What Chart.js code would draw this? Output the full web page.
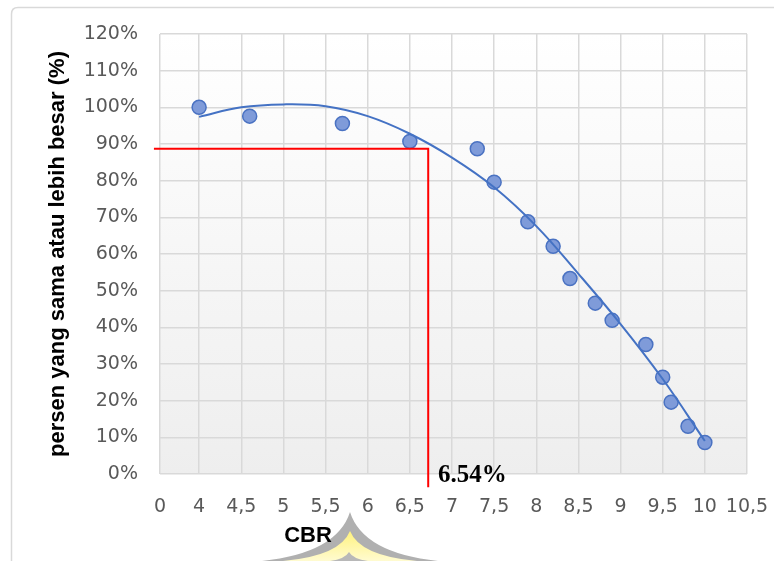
<!DOCTYPE html>
<html><head><meta charset="utf-8">
<script src="https://cdn.jsdelivr.net/npm/chart.js@4.4.1/dist/chart.umd.min.js"></script>
<style>html,body{margin:0;padding:0;background:#fff;}canvas{display:block;}</style>
</head><body>
<canvas id="c" width="774" height="561"></canvas>
<script>
// ---- data ----
const xTickValues = [3.536, 4, 4.5, 5, 5.5, 6, 6.5, 7, 7.5, 8, 8.5, 9, 9.5, 10, 10.5];
const xTickLabels = ['0', '4', '4,5', '5', '5,5', '6', '6,5', '7', '7,5', '8', '8,5', '9', '9,5', '10', '10,5'];
const yMin = 0, yMax = 120, yStep = 10;

const cbrValues = [4, 4.6, 5.7, 6.5, 7.3, 7.5, 7.9, 8.2, 8.4, 8.7, 8.9, 9.3, 9.5, 9.6, 9.8, 10];
const percentValues = [100, 97.6, 95.6, 90.7, 88.7, 79.6, 68.8, 62.1, 53.3, 46.6, 41.9, 35.3, 26.4, 19.6, 13.0, 8.6];

const trendX = [4, 4.5, 5, 5.5, 6, 6.5, 7, 7.5, 8, 8.5, 9, 9.5, 10];
const trendY = [97.4, 100.0, 100.8, 100.3, 97.6, 92.8, 86.3, 78.2, 67.6, 54.6, 40.9, 25.9, 9.0];

const guideX = [3.464, 6.718, 6.718];
const guideY = [88.7, 88.7, -3.6];
const guideLabel = '6.54%';
const guideLabelAt = [6.833, -2.05];

const yTitle = 'persen yang sama atau lebih besar (%)';
const xTitle = 'CBR';

const toXY = (xs, ys) => xs.map((x, i) => ({x: x, y: ys[i]}));

const decor = {
  id: 'decor',
  beforeDraw(chart) {
    const {ctx, chartArea: a} = chart;
    ctx.save();
    // outer frame
    ctx.strokeStyle = '#d9d9d9';
    ctx.lineWidth = 1.5;
    ctx.beginPath();
    ctx.moveTo(11.5, 561);
    ctx.lineTo(11.5, 14);
    ctx.quadraticCurveTo(11.5, 7.5, 18, 7.5);
    ctx.lineTo(774, 7.5);
    ctx.stroke();
    // plot background gradient
    const g = ctx.createLinearGradient(0, a.top, 0, a.bottom);
    g.addColorStop(0, '#ffffff');
    g.addColorStop(1, '#eeeeee');
    ctx.fillStyle = g;
    ctx.fillRect(a.left, a.top, a.right - a.left, a.bottom - a.top);
    // watermark (partial logo)
    ctx.fillStyle = '#b0b0b0';
    ctx.beginPath();
    ctx.moveTo(350, 512);
    ctx.quadraticCurveTo(337, 553, 262, 561);
    ctx.lineTo(438, 561);
    ctx.quadraticCurveTo(363, 553, 350, 512);
    ctx.fill();
    const yg = ctx.createLinearGradient(0, 530, 0, 561);
    yg.addColorStop(0, '#fff27a');
    yg.addColorStop(1, '#fffbd0');
    ctx.fillStyle = yg;
    ctx.beginPath();
    ctx.moveTo(350, 531);
    ctx.quadraticCurveTo(340, 556, 283, 561);
    ctx.lineTo(417, 561);
    ctx.quadraticCurveTo(360, 556, 350, 531);
    ctx.fill();
    ctx.fillStyle = '#b8b8b8';
    ctx.beginPath();
    ctx.moveTo(349, 552);
    ctx.quadraticCurveTo(345, 559, 330, 561);
    ctx.lineTo(368, 561);
    ctx.quadraticCurveTo(353, 559, 349, 552);
    ctx.fill();
    ctx.restore();
  },
  afterDraw(chart) {
    const {ctx, chartArea: a, scales: {x, y}} = chart;
    ctx.save();
    ctx.fillStyle = '#000';
    ctx.font = 'bold 25px "Liberation Serif", "Times New Roman", serif';
    ctx.textAlign = 'left';
    ctx.textBaseline = 'alphabetic';
    ctx.fillText(guideLabel, x.getPixelForValue(guideLabelAt[0]), y.getPixelForValue(guideLabelAt[1]));
    ctx.font = 'bold 22px "Liberation Sans", Arial, sans-serif';
    ctx.textAlign = 'center';
    ctx.textBaseline = 'middle';
    ctx.fillText(xTitle, a.left + 148, 536);
    ctx.restore();
  }
};

const tickFont = {family: 'DejaVu Sans', size: 19};
const gridCfg = {color: '#d9d9d9', lineWidth: 1.5, drawTicks: false};

new Chart(document.getElementById('c'), {
  type: 'scatter',
  data: {
    datasets: [
      {
        type: 'line',
        data: toXY(guideX, guideY),
        borderColor: '#ff0000',
        borderWidth: 2,
        pointRadius: 0,
        tension: 0,
        clip: false,
        fill: false
      },
      {
        type: 'line',
        data: toXY(trendX, trendY),
        borderColor: '#4472c4',
        borderWidth: 2,
        pointRadius: 0,
        tension: 0.4,
        fill: false
      },
      {
        data: toXY(cbrValues, percentValues),
        backgroundColor: '#7f9bd9',
        borderColor: '#4a72c2',
        borderWidth: 1.5,
        pointRadius: 7,
        pointHoverRadius: 7
      }
    ]
  },
  plugins: [decor],
  options: {
    responsive: false,
    animation: false,
    events: [],
    layout: {padding: {top: 34, right: 27, bottom: 0, left: 0}},
    plugins: {legend: {display: false}, tooltip: {enabled: false}},
    scales: {
      x: {
        type: 'linear',
        min: xTickValues[0],
        max: xTickValues[xTickValues.length - 1],
        afterBuildTicks(s) { s.ticks = xTickValues.map(v => ({value: v})); },
        afterFit(s) { s.height = 87; s.paddingLeft = 0; s.paddingRight = 0; },
        ticks: {
          autoSkip: false, maxRotation: 0, minRotation: 0, padding: 22,
          color: '#595959', font: tickFont,
          callback: (v, i) => xTickLabels[i]
        },
        grid: gridCfg,
        border: {display: false}
      },
      y: {
        min: yMin, max: yMax,
        afterFit(s) { s.width = 160; s.paddingTop = 0; s.paddingBottom = 0; },
        ticks: {
          stepSize: yStep, padding: 22,
          color: '#595959', font: tickFont,
          callback: v => v + '%'
        },
        grid: gridCfg,
        border: {display: false},
        title: {
          display: true, text: yTitle, color: '#000',
          font: {family: 'Liberation Sans', size: 22, weight: 'bold'},
          padding: {top: 45, bottom: 0}
        }
      }
    }
  }
});
</script>
</body></html>
